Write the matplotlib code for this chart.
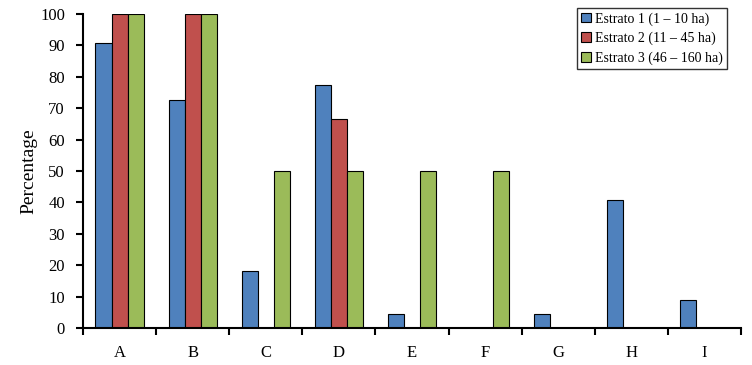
import matplotlib
matplotlib.use("Agg")
import matplotlib.pyplot as plt
import numpy as np

categories = ["A", "B", "C", "D", "E", "F", "G", "H", "I"]
series_names = ["Estrato 1 (1 – 10 ha)", "Estrato 2 (11 – 45 ha)", "Estrato 3 (46 – 160 ha)"]
estrato1 = [90.9, 72.7, 18.2, 77.3, 4.5, 0, 4.5, 40.9, 9.1]
estrato2 = [100, 100, 0, 66.7, 0, 0, 0, 0, 0]
estrato3 = [100, 100, 50, 50, 50, 50, 0, 0, 0]
colors = ["#4F81BD", "#C0504D", "#9BBB59"]

plt.rcParams['font.family'] = ['Liberation Serif', 'DejaVu Serif']

fig = plt.figure(figsize=(7.52, 3.65), dpi=100)
ax = fig.add_axes([0.1104, 0.101, 0.875, 0.8606])

x = np.arange(len(categories))
w = 0.22
handles = []
for i, (vals, c, name) in enumerate(zip([estrato1, estrato2, estrato3], colors, series_names)):
    vals = np.array(vals, dtype=float)
    pos = x + (i - 1) * w
    mask = vals > 0
    b = ax.bar(pos[mask], vals[mask], width=w, color=c, edgecolor="black", linewidth=0.8, label=name)
    handles.append(b)

ax.set_xlim(-0.5, len(categories) - 0.5)
ax.set_ylim(0, 100)
ax.set_yticks(np.arange(0, 101, 10))
ax.set_xticks(x)
ax.set_xticklabels(categories, fontsize=12)
ax.set_xticks(np.arange(-0.5, len(categories), 1.0), minor=True)
ax.tick_params(axis='x', which='major', length=0, pad=12)
ax.tick_params(axis='x', which='minor', length=5, width=1.5, direction='out')
ax.tick_params(axis='y', length=5, width=1.5, direction='out', labelsize=12, pad=8)
for s in ["top", "right"]:
    ax.spines[s].set_visible(False)
for s in ["left", "bottom"]:
    ax.spines[s].set_linewidth(1.5)
ax.set_ylabel("Percentage", fontsize=14, labelpad=2)

leg = fig.legend(handles=handles, loc="upper right", bbox_to_anchor=(727 / 752, 1 - 8 / 365),
                 fontsize=10, frameon=True, fancybox=False, edgecolor="black",
                 handlelength=0.7, handleheight=0.7, handletextpad=0.3, borderpad=0.3,
                 labelspacing=0.45, borderaxespad=0)
leg.get_frame().set_linewidth(1.0)

fig.savefig("out.png", dpi=100)
